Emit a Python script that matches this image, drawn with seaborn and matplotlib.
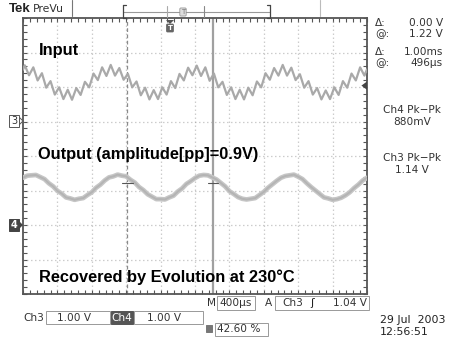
import numpy as np
import pandas as pd
import matplotlib
matplotlib.use("Agg")
import matplotlib.pyplot as plt
import seaborn as sns
from matplotlib.patches import Rectangle, Polygon

# Ch3 = input, Ch4 = output; volts, 1 V/div, 400 us/div
input_time_us = [0] + [20 + 50 * n for n in range(80)] + [4000]
input_volts = [1.50,
    1.63, 1.34, 1.57, 1.19, 1.40, 0.98, 1.17, 0.78, 0.99, 0.65, 0.92, 0.63, 0.97, 0.77, 1.15, 0.99, 1.39, 1.20, 1.57, 1.32,
    1.64, 1.33, 1.55, 1.21, 1.38, 0.99, 1.16, 0.76, 0.98, 0.64, 0.91, 0.65, 0.99, 0.78, 1.17, 0.97, 1.38, 1.19, 1.56, 1.34,
    1.62, 1.32, 1.57, 1.18, 1.39, 0.99, 1.15, 0.77, 0.99, 0.65, 0.92, 0.64, 0.98, 0.76, 1.16, 0.99, 1.40, 1.21, 1.55, 1.33,
    1.64, 1.33, 1.56, 1.20, 1.37, 0.98, 1.17, 0.78, 0.97, 0.64, 0.90, 0.65, 0.99, 0.77, 1.17, 0.98, 1.39, 1.19, 1.57, 1.33,
    1.51]
output_time_us = [50 * n for n in range(81)]
output_volts = [
    1.37, 1.43, 1.44, 1.45, 1.39, 1.33, 1.21, 1.12, 0.99, 0.91, 0.80, 0.77, 0.73, 0.76, 0.78, 0.87, 0.95, 1.08, 1.17, 1.29,
    1.38, 1.41, 1.46, 1.43, 1.41, 1.31, 1.23, 1.10, 1.01, 0.89, 0.82, 0.75, 0.75, 0.74, 0.80, 0.85, 0.97, 1.06, 1.19, 1.27,
    1.36, 1.43, 1.45, 1.44, 1.38, 1.32, 1.22, 1.12, 0.98, 0.90, 0.81, 0.76, 0.74, 0.76, 0.78, 0.87, 0.96, 1.08, 1.18, 1.28,
    1.37, 1.42, 1.44, 1.46, 1.40, 1.33, 1.21, 1.10, 1.00, 0.90, 0.80, 0.77, 0.73, 0.75, 0.79, 0.86, 0.95, 1.07, 1.17, 1.29,
    1.37]
ch3_ground_div = 1.0
ch4_ground_div = -2.0
cursor_times_us = [1215, 2210]
cursor_level_ch4 = 1.22
trigger_level_ch3 = 1.04

label_input = "Input"
label_output = "Output (amplitude[pp]=0.9V)"
label_note = "Recovered by Evolution at 230\u00b0C"

# ---------------- figure ----------------
sns.set_theme(style="white")
plt.rcParams['font.family'] = ['DejaVu Sans']
W, H = 450, 337
fig = plt.figure(figsize=(4.5, 3.37), dpi=100, facecolor='white')

def fx(x):
    return x / W

def fy(y):
    return 1 - y / H

L, R, T, B = 23, 367, 18, 294
ax = fig.add_axes([fx(L), fy(B), (R - L) / W, (B - T) / H])
ax.set_xlim(0, 4000)
ax.set_ylim(-4, 4)

df_in = pd.DataFrame({"t": input_time_us, "div": [v + ch3_ground_div for v in input_volts]})
df_out = pd.DataFrame({"t": output_time_us, "div": [v + ch4_ground_div for v in output_volts]})

# grid
for k in range(1, 10):
    ax.axvline(400 * k, color='#9a9a9a', lw=0.9, ls=(0, (0.6, 2.6)), zorder=1)
for k in range(-3, 4):
    ax.axhline(k, color='#9a9a9a', lw=0.9, ls=(0, (0.6, 2.6)), zorder=1)

# cursors
ax.axvline(cursor_times_us[0], color='#8a8a8a', lw=0.9, ls=(0, (3, 2)), zorder=2)
ax.axvline(cursor_times_us[1], color='#a0a0a0', lw=1.6, zorder=2)

sns.lineplot(data=df_out, x="t", y="div", ax=ax, color='#c6c6c6', lw=3.4, zorder=3)
sns.lineplot(data=df_out, x="t", y="div", ax=ax, color='#b4b4b4', lw=1.4, zorder=3)
sns.lineplot(data=df_in, x="t", y="div", ax=ax, color='#a9a9a9', lw=1.6, zorder=3)

for ct in cursor_times_us:
    ax.plot([ct - 60, ct + 60], [cursor_level_ch4 + ch4_ground_div] * 2, color='#555555', lw=0.8, zorder=4)

ax.set_xlabel("")
ax.set_ylabel("")
ax.set_xticks(np.arange(0, 4001, 400))
ax.set_yticks(np.arange(-4, 5, 1))
ax.set_xticks(np.arange(0, 4001, 80), minor=True)
ax.set_yticks(np.arange(-4, 4.01, 0.2), minor=True)
ax.tick_params(which='both', direction='in', top=True, right=True, bottom=True, left=True,
               length=3, width=0.8, color='#555555', labelbottom=False, labelleft=False)
for s in ax.spines.values():
    s.set_color('#555555')
    s.set_linewidth(1.3)

# trigger level arrow at right edge
ax.add_patch(Polygon([[3935, trigger_level_ch3 + ch3_ground_div], [4000, trigger_level_ch3 + ch3_ground_div + 0.12],
                      [4000, trigger_level_ch3 + ch3_ground_div - 0.12]], closed=True,
                     fc='#444444', ec='none', clip_on=False, zorder=5))

# big labels
big = dict(family='Liberation Sans', weight='bold', fontsize=11.8, color='black', va='center', ha='left')
fig.text(fx(39), fy(50), label_input, **big)
fig.text(fx(38), fy(155), label_output, **big)
fig.text(fx(39), fy(277), label_note, **big)

# ---------------- scope chrome ----------------
sm = dict(fontsize=7.6, color='#333333', family='DejaVu Sans')
fig.text(fx(9), fy(9), "Tek", fontsize=9.5, weight='bold', family='Liberation Sans', color='#222222', va='center')
fig.text(fx(33), fy(9), "PreVu", va='center', fontsize=7.8, color='#333333')
fig.add_artist(plt.Line2D([fx(72), fx(72)], [fy(0), fy(16)], color='#777777', lw=0.8))
fig.add_artist(plt.Line2D([fx(320), fx(320)], [fy(0), fy(16)], color='#bbbbbb', lw=0.8))
fig.add_artist(plt.Line2D([fx(123), fx(270)], [fy(12), fy(12)], color='#999999', lw=0.8))
fig.add_artist(plt.Line2D([fx(123), fx(123)], [fy(5), fy(18)], color='#444444', lw=0.9))
fig.add_artist(plt.Line2D([fx(123), fx(126)], [fy(5), fy(5)], color='#444444', lw=0.9))
fig.add_artist(plt.Line2D([fx(123), fx(126)], [fy(18), fy(18)], color='#444444', lw=0.9))
fig.add_artist(plt.Line2D([fx(270), fx(270)], [fy(5), fy(18)], color='#444444', lw=0.9))
fig.add_artist(plt.Line2D([fx(267), fx(270)], [fy(5), fy(5)], color='#444444', lw=0.9))
fig.add_artist(plt.Line2D([fx(267), fx(270)], [fy(18), fy(18)], color='#444444', lw=0.9))
fig.add_artist(plt.Line2D([fx(167), fx(167)], [fy(6), fy(17)], color='#aaaaaa', lw=0.8))
fig.add_artist(plt.Line2D([fx(204), fx(204)], [fy(6), fy(17)], color='#888888', lw=0.8))
fig.text(fx(183), fy(12), "T", fontsize=5, color='#777777', ha='center', va='center',
         bbox=dict(boxstyle='round,pad=0.15', fc='#dddddd', ec='#888888', lw=0.5))
# trigger position marker under top border
fig.add_artist(Polygon([[fx(166), fy(20)], [fx(174), fy(20)], [fx(170), fy(24)]], closed=True,
                       fc='#555555', ec='none'))
fig.text(fx(170), fy(28), "T", fontsize=5, color='white', weight='bold', ha='center', va='center',
         bbox=dict(boxstyle='round,pad=0.2', fc='#666666', ec='none'))

# channel ground markers
fig.text(fx(14), fy(121), "3", fontsize=7, color='#333333', ha='center', va='center',
         bbox=dict(boxstyle='square,pad=0.15', fc='white', ec='#555555', lw=0.7))
fig.add_artist(Polygon([[fx(19), fy(117)], [fx(23), fy(121)], [fx(19), fy(125)]], closed=True,
                       fc='white', ec='#555555', lw=0.7))
fig.text(fx(14), fy(225), "4", fontsize=7, color='white', weight='bold', ha='center', va='center',
         bbox=dict(boxstyle='square,pad=0.15', fc='#444444', ec='#444444', lw=0.7))
fig.add_artist(Polygon([[fx(19), fy(221)], [fx(23), fy(225)], [fx(19), fy(229)]], closed=True,
                       fc='#444444', ec='none'))

# right readouts
fig.text(fx(375), fy(23), "\u0394:", va='center', **sm)
fig.text(fx(443), fy(23), "0.00 V", va='center', ha='right', **sm)
fig.text(fx(375), fy(34), "@:", va='center', **sm)
fig.text(fx(443), fy(34), "1.22 V", va='center', ha='right', **sm)
fig.text(fx(375), fy(52), "\u0394:", va='center', **sm)
fig.text(fx(443), fy(52), "1.00ms", va='center', ha='right', **sm)
fig.text(fx(375), fy(63), "@:", va='center', **sm)
fig.text(fx(443), fy(63), "496\u00b5s", va='center', ha='right', **sm)
fig.text(fx(412), fy(110), "Ch4 Pk\u2212Pk", va='center', ha='center', **sm)
fig.text(fx(412), fy(122), "880mV", va='center', ha='center', **sm)
fig.text(fx(412), fy(158), "Ch3 Pk\u2212Pk", va='center', ha='center', **sm)
fig.text(fx(412), fy(170), "1.14 V", va='center', ha='center', **sm)

# bottom readouts
def box(x0, y0, x1, y1, fc='none', ec='#999999'):
    fig.add_artist(Rectangle((fx(x0), fy(y1)), (x1 - x0) / W, (y1 - y0) / H,
                             transform=fig.transFigure, fc=fc, ec=ec, lw=0.7))

fig.text(fx(212), fy(303), "M", va='center', ha='center', **sm)
box(217, 296, 255, 310)
fig.text(fx(236), fy(303), "400\u00b5s", va='center', ha='center', **sm)
fig.text(fx(268), fy(303), "A", va='center', ha='center', **sm)
box(275, 296, 369, 310)
fig.text(fx(282), fy(303), "Ch3", va='center', ha='left', **sm)
fig.text(fx(312), fy(303), "\u0283", va='center', ha='center', fontsize=8, color='#222222')
fig.text(fx(367), fy(303), "1.04 V", va='center', ha='right', **sm)

fig.text(fx(23), fy(318), "Ch3", va='center', ha='left', **sm)
box(46, 311, 110, 324)
fig.text(fx(57), fy(318), "1.00 V", va='center', ha='left', **sm)
box(111, 311, 133, 324, fc='#555555', ec='#555555')
fig.text(fx(122), fy(318), "Ch4", va='center', ha='center', fontsize=7.6, color='white')
box(134, 311, 203, 324)
fig.text(fx(147), fy(318), "1.00 V", va='center', ha='left', **sm)

box(206, 325, 212, 332, fc='#777777', ec='#777777')
box(215, 323, 268, 336)
fig.text(fx(217), fy(329.5), "42.60 %", va='center', ha='left', **sm)

fig.text(fx(380), fy(320), "29 Jul  2003", va='center', ha='left', fontsize=7.9, color='#222222')
fig.text(fx(380), fy(332), "12:56:51", va='center', ha='left', fontsize=7.9, color='#222222')

fig.savefig("out.png", dpi=100, facecolor='white')
